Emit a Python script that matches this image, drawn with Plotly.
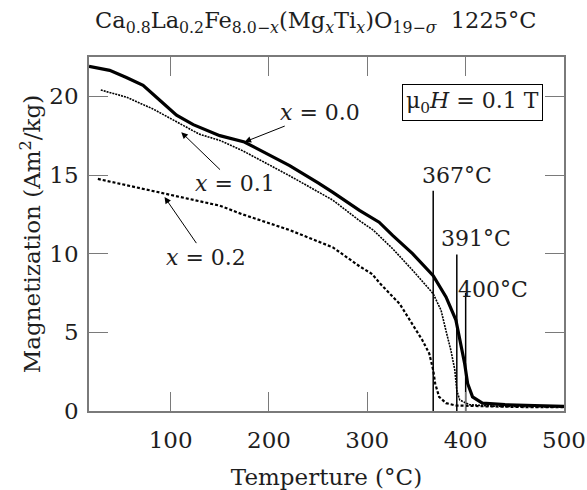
import plotly.graph_objects as go

# Magnetization vs temperature, Ca0.8La0.2Fe(8-x)(MgxTix)O19 sintered at 1225 C
temp_x00 = [17, 38, 55, 72, 89, 106, 123, 150, 175, 210, 221, 250, 265, 292, 312, 326,
            346, 367, 380, 390, 395, 399, 402, 407, 417, 440, 470, 500]
mag_x00 = [21.9, 21.65, 21.2, 20.7, 19.75, 18.8, 18.2, 17.5, 17.1, 16.0, 15.6, 14.5, 13.9,
           12.75, 12.0, 11.15, 10.0, 8.6, 7.25, 5.8, 4.3, 3.0, 1.75, 0.9, 0.5, 0.4, 0.35, 0.3]

temp_x01 = [29, 55, 82, 109, 129, 150, 173, 221, 265, 292, 306, 326, 346, 367, 375, 380,
            385, 389, 391, 394, 404, 430, 470, 500]
mag_x01 = [20.4, 19.95, 19.2, 18.25, 17.6, 17.2, 16.55, 14.95, 13.4, 12.1, 11.5, 10.3, 8.95,
           7.45, 6.4, 5.1, 3.85, 2.6, 1.3, 0.7, 0.4, 0.3, 0.25, 0.25]

temp_x02 = [26, 55, 79, 89, 123, 150, 173, 221, 265, 292, 305, 313, 333, 346, 356, 363,
            367, 369, 373, 380, 390, 420, 460, 500]
mag_x02 = [14.75, 14.35, 14.0, 13.9, 13.4, 13.05, 12.5, 11.5, 10.4, 9.2, 8.7, 8.1, 6.8, 5.55,
           4.5, 3.65, 2.6, 1.75, 0.9, 0.5, 0.35, 0.3, 0.25, 0.25]

# Curie temperatures and the heights of their marker lines
curie_temps = [367, 391, 400]
curie_tops = [14.0, 9.95, 7.5]
curie_labels = ["367°C", "391°C", "400°C"]
curie_label_pos = [(391.5, 15.0), (410.5, 10.95), (428, 7.7)]

x_ticks = [100, 200, 300, 400, 500]
y_ticks = [0, 5, 10, 15, 20]

FONT = "DejaVu Serif"
FRAME = "#7a7a7a"
INK = "#1e1e1e"

fig = go.Figure()

fig.add_trace(go.Scatter(x=temp_x02, y=mag_x02, mode="lines",
                         line=dict(color="black", width=2.2, dash="3px,2px")))
fig.add_trace(go.Scatter(x=temp_x01, y=mag_x01, mode="lines",
                         line=dict(color="black", width=1.6, dash="2px,1px")))
fig.add_trace(go.Scatter(x=temp_x00, y=mag_x00, mode="lines",
                         line=dict(color="black", width=3.2)))

for t, top in zip(curie_temps, curie_tops):
    fig.add_trace(go.Scatter(x=[t, t], y=[0, top], mode="lines",
                             line=dict(color="black", width=1.5)))

annotations = []
for text, (tx, ty) in zip(curie_labels, curie_label_pos):
    annotations.append(dict(x=tx, y=ty, xref="x", yref="y", text=text, showarrow=False,
                            font=dict(family=FONT, size=22, color=INK)))

# series labels, each with an arrow pointing at its curve (label, arrow head, label centre)
series_labels = [
    ("<i>x</i> = 0.0", (175.2, 17.1), (252, 19.0)),
    ("<i>x</i> = 0.1", (110.8, 17.72), (165, 14.45)),
    ("<i>x</i> = 0.2", (93.8, 13.6), (136, 9.78)),
]
for text, head, pos in series_labels:
    annotations.append(dict(x=head[0], y=head[1], ax=pos[0], ay=pos[1],
                            xref="x", yref="y", axref="x", ayref="y", text=text,
                            showarrow=True, arrowhead=2, arrowsize=1.3, arrowwidth=1,
                            arrowcolor="black", standoff=0,
                            font=dict(family=FONT, size=22, color=INK)))

annotations.append(dict(x=407, y=19.6, xref="x", yref="y",
                        text="μ<sub>0</sub><i>H</i> = 0.1 T", showarrow=False,
                        font=dict(family=FONT, size=22, color=INK),
                        bordercolor="black", borderwidth=1, borderpad=3, bgcolor="white"))

annotations.append(dict(x=(315 - 89) / 475, y=1.0, xref="paper", yref="paper", yshift=35,
                        xanchor="center", yanchor="middle", showarrow=False,
                        text="Ca<sub>0.8</sub>La<sub>0.2</sub>Fe<sub>8.0−<i>x</i></sub>"
                             "(Mg<sub><i>x</i></sub>Ti<sub><i>x</i></sub>)O<sub>19−<i>σ</i></sub>"
                             "  1225°C",
                        font=dict(family=FONT, size=22.5, color=INK)))

fig.update_layout(
    width=587, height=490,
    margin=dict(l=89, r=23, t=57, b=79, autoexpand=False),
    paper_bgcolor="white", plot_bgcolor="white",
    showlegend=False,
    annotations=annotations,
    font=dict(family=FONT, size=23, color=INK),
)
fig.update_xaxes(range=[17, 500], tickvals=x_ticks, ticks="inside", ticklen=19,
                 tickcolor=FRAME, tickwidth=1, showline=True, linecolor=FRAME, linewidth=1.5,
                 mirror="allticks", showgrid=False, zeroline=False, automargin=False,
                 ticklabelstandoff=8,
                 title=dict(text="Temperture (°C)", font=dict(size=23), standoff=17),
                 tickfont=dict(size=23))
fig.update_yaxes(range=[0, 22.5], tickvals=y_ticks, ticks="inside", ticklen=19,
                 tickcolor=FRAME, tickwidth=1, showline=True, linecolor=FRAME, linewidth=1.5,
                 mirror="allticks", showgrid=False, zeroline=False, automargin=False,
                 ticklabelstandoff=4,
                 title=dict(text="Magnetization (Am<sup>2</sup>/kg)", font=dict(size=23),
                            standoff=2),
                 tickfont=dict(size=23))

fig.write_html("out.html")
